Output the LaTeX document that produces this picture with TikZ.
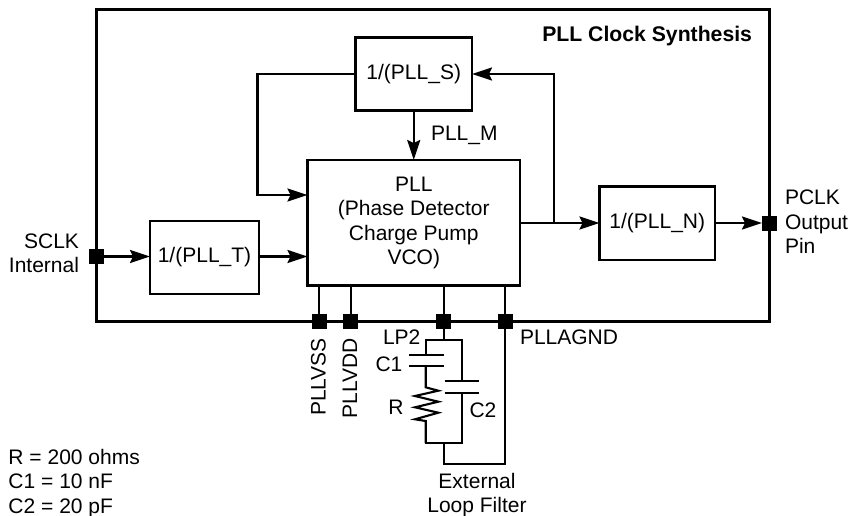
\documentclass[tikz,border=0pt]{standalone}
\usepackage{fontspec}
\setmainfont{Liberation Sans}
\usetikzlibrary{arrows.meta}
\tikzset{
  wire/.style={line width=2.1pt,black},
  flow/.style={wire,-{Stealth[length=20pt,width=13pt,inset=3pt]}},
  blockbox/.style={draw,line width=2.1pt,inner sep=0pt,outer sep=0pt,anchor=north west,align=center},
  pin/.style={fill=black,minimum size=15pt,inner sep=0pt,outer sep=0pt},
  lbl/.style={inner sep=0pt,outer sep=0pt,font=\fontsize{21}{24.5}\selectfont,align=center},
}
\begin{document}
\begin{tikzpicture}[x=1pt,y=-1pt]
\useasboundingbox (0,0) rectangle (856,516);
\node[blockbox,minimum width=673pt,minimum height=312pt] (chip) at (96.5,9.5) {};
\node[lbl,anchor=east,font=\bfseries\fontsize{21.2}{24}\selectfont] (title) at (752,36) {PLL Clock Synthesis};
\node[blockbox,lbl,anchor=north west,minimum width=109pt,minimum height=73pt] (T) at (150,221) {1/(PLL\_T)};
\node[blockbox,lbl,anchor=north west,minimum width=116.5pt,minimum height=73pt] (S) at (355.5,37.5) {1/(PLL\_S)};
\node[blockbox,lbl,anchor=north west,minimum width=212.5pt,minimum height=125.5pt] (P) at (307.5,160) {\raisebox{-1pt}{PLL}\\\raisebox{-1pt}{(Phase Detector}\\\raisebox{-1pt}{Charge Pump}\\\raisebox{-1pt}{VCO)}};
\node[blockbox,lbl,anchor=north west,minimum width=115.5pt,minimum height=73.5pt] (N) at (599.5,186.5) {1/(PLL\_N)};
\node[pin] (sclk) at (96.5,256.5) {};
\node[pin] (pclk) at (769.5,223) {};
\node[pin] (vss) at (319.3,321) {};
\node[pin] (vdd) at (350.7,321) {};
\node[pin] (lp) at (443.7,321) {};
\node[pin] (agnd) at (505,321) {};
\node[lbl,anchor=east,align=right] (sclkl) at (79,253.5) {SCLK\\Internal};
\node[lbl,anchor=west,align=left] (pclkl) at (785,222) {PCLK\\Output\\Pin};
\node[lbl,anchor=west] (ml) at (431,135.5) {PLL\_M};
\node[lbl,rotate=90,anchor=east] (vssl) at (318.5,338) {PLLVSS};
\node[lbl,rotate=90,anchor=east] (vddl) at (350,338) {PLLVDD};
\node[lbl,anchor=west] (agl) at (520,337) {PLLAGND};
\node[lbl,anchor=west] (lpl) at (383,337) {LP2};
\node[lbl] (c1l) at (389,364.5) {C1};
\node[lbl] (rl) at (396,407) {R};
\node[lbl] (c2l) at (483,410) {C2};
\node[lbl] (extl) at (477,495) {External\\Loop Filter};
\node[lbl,anchor=south west,align=left] (vals) at (8.5,517.5) {R = 200 ohms\\C1 = 10 nF\\C2 = 20 pF};
% connectors
\draw[flow] (sclk.center) -- (T.west |- sclk);
\draw[flow] (T.east |- sclk) -- (P.west |- sclk);
\draw[flow] (S.south) -- (P.north -| S.south);
\coordinate (sl) at (257.5,74);
\coordinate (fb) at (257.5,195);
\draw[wire,line join=miter] (S.west |- sl) -- (sl) -- (fb) -- ++(10pt,0pt);
\draw[flow] (fb) -- (P.west |- fb);
\coordinate (split) at (554,223);
\draw[wire] (P.east |- split) -- (split);
\draw[flow] (split) -- (N.west |- split);
\coordinate (up) at (554,74);
\draw[wire,line join=miter] (split) -- (up) -- ++(-10pt,0pt);
\draw[flow] (up) -- (S.east |- up);
\draw[flow] (N.east |- pclk) -- (pclk.west);
\draw[wire] (P.south -| vss) -- (vss);
\draw[wire] (P.south -| vdd) -- (vdd);
\draw[wire] (P.south -| lp) -- (lp);
\draw[wire] (P.south -| agnd) -- (agnd);
% filter
\coordinate (ft) at (443.7,340);
\coordinate (ftl) at (425.7,340);
\coordinate (ftr) at (462,340);
\coordinate (fbm) at (443.7,443);
\coordinate (fbl) at (425.7,443);
\coordinate (fbr) at (462,443);
\coordinate (lo) at (443.7,464);
\coordinate (lo2) at (505,464);
\draw[wire] (lp) -- (ft);
\draw[wire,line cap=rect] (ftl) -- (ftr);
\draw[wire,line cap=rect] (fbl) -- (fbr);
\draw[wire,line join=miter] (fbm) -- (lo) -- (lo2) -- (agnd);
\draw[wire] (ftl) -- (425.7,354.7);
\draw[wire] (409,354.7) -- (443.7,354.7);
\draw[wire] (409,366.3) -- (443.7,366.3);
\draw[wire,line join=miter] (425.7,366.3) -- (425.7,387.3) -- (438.3,390.7) -- (415,396) -- (438.3,401.7) -- (415,407.3) -- (438.3,412.7) -- (415,419.3) -- (425.7,421) -- (fbl);
\draw[wire] (ftr) -- (462,381.3);
\draw[wire] (444.7,381.3) -- (479,381.3);
\draw[wire] (444.7,393.3) -- (479,393.3);
\draw[wire] (462,393.3) -- (fbr);
\end{tikzpicture}
\end{document}
